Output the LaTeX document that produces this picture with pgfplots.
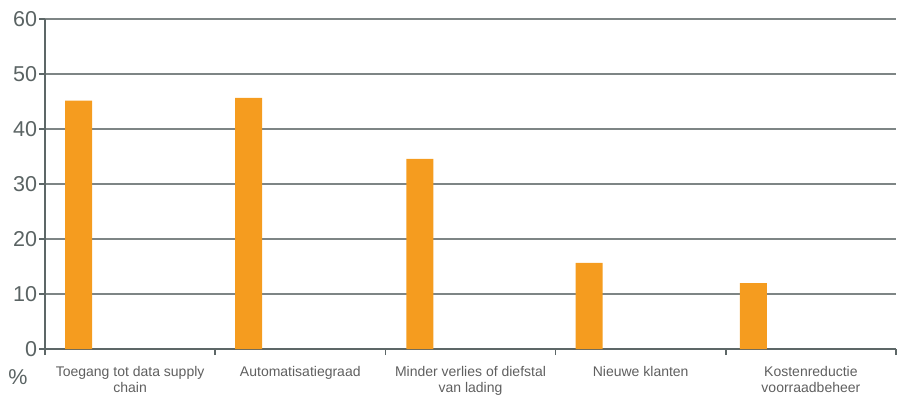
\documentclass[border=0pt]{standalone}
\usepackage{pgfplots}
\pgfplotsset{compat=1.18}
\usepackage{fontspec}
\setmainfont{Liberation Sans}
\definecolor{barorange}{HTML}{F59C1F}
\definecolor{axisgray}{HTML}{5D6767}
\definecolor{gridgray}{HTML}{7E8585}
\definecolor{textgray}{HTML}{5F5F5F}
\definecolor{numgray}{HTML}{5A6363}
\begin{document}
\begin{tikzpicture}
\begin{axis}[
  scale only axis,
  width=851bp, height=330bp,
  xmin=0, xmax=5, ymin=0, ymax=60,
  axis lines=left,
  axis line style={-, draw=axisgray, line width=2.5bp},
  ytick={0,10,...,60},
  ymajorgrids,
  grid style={draw=gridgray, line width=1.6bp},
  xtick={0.5,1.5,2.5,3.5,4.5},
  xticklabels={Toegang tot data supply\\chain, Automatisatiegraad, Minder verlies of diefstal\\van lading, Nieuwe klanten, Kostenreductie\\voorraadbeheer},
  minor xtick={0,1,2,3,4,5},
  major x tick style={draw=none},
  tick align=outside,
  major tick length=6bp, minor tick length=6bp,
  tick style={draw=axisgray, line width=1.5bp},
  xticklabel style={font=\fontsize{14bp}{16bp}\selectfont, text=textgray, align=center, yshift=-8bp},
  yticklabel style={font=\fontsize{21.5bp}{24bp}\selectfont, text=numgray, xshift=1.5bp},
  /pgf/number format/assume math mode=true,
  ylabel={\%},
  ylabel style={font=\fontsize{21.5bp}{24bp}\selectfont, text=numgray, rotate=-90, anchor=center, at={(axis description cs:-0.0317,-0.0848)}},
  ybar, bar width=27bp, bar shift=0pt,
  clip=false,
]
\addplot[fill=barorange, draw=none] coordinates {(0.197,45.15) (1.197,45.64) (2.203,34.55) (3.197,15.64) (4.162,12.0)};
\end{axis}
\pgfresetboundingbox
\path ([xshift=-45bp,yshift=-46bp]current axis.origin) rectangle ([xshift=853bp,yshift=349bp]current axis.origin);
\end{tikzpicture}
\end{document}
